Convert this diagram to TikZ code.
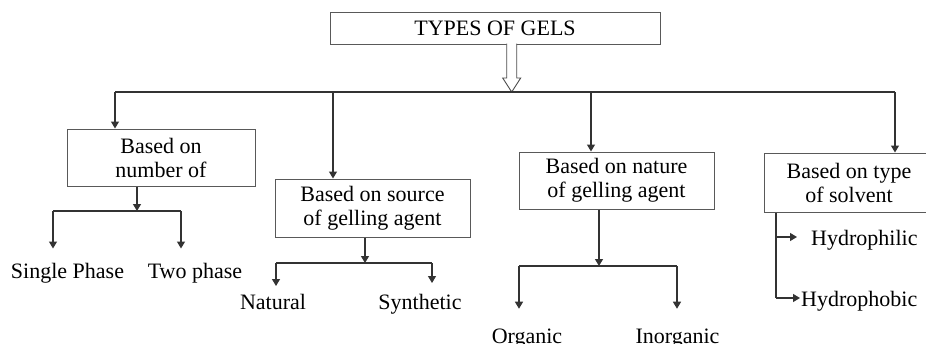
\documentclass[tikz,border=0pt]{standalone}
\usepackage{fontspec}
\setmainfont{Liberation Serif}
\usetikzlibrary{arrows.meta,positioning}

\tikzset{
  box/.style={draw=black!65, line width=1pt, align=center, inner sep=0pt,
    font=\fontsize{22}{24}\selectfont},
  leaf/.style={font=\fontsize{22}{24}\selectfont, inner sep=0pt, anchor=base},
  arr/.style={draw=black!80, line width=1.2pt, -{Triangle[width=8pt,length=7pt]}},
  bar/.style={draw=black!80, line width=1.2pt},
}

\begin{document}
\begin{tikzpicture}[x=1pt,y=-1pt]
  \useasboundingbox (0,0) rectangle (926,343);
  \node[box, minimum width=330pt, minimum height=32pt] (gels) at (495,28) {TYPES OF GELS};
  \node[box, minimum width=188pt, minimum height=57pt] (number) at (161,157.5) {Based on\\number of};
  \node[box, minimum width=195pt, minimum height=58pt] (source) at (372.5,208) {Based on source\\of gelling agent};
  \node[box, minimum width=195pt, minimum height=57pt] (nature) at (616.5,180.5) {Based on nature\\of gelling agent};
  \node[box, minimum width=170pt, minimum height=59pt] (solvent) at (849,182.5) {Based on type\\of solvent};
  % hollow arrow down to the bar
  \draw[draw=black!70, line width=0.9pt, fill=white] (506.7,43.5) -- (506.7,78) -- (502.7,78)
    -- (511.7,92) -- (520.7,78) -- (516.7,78) -- (516.7,43.5);
  \coordinate (b1) at (115,92);
  \coordinate (b2) at (333,92);
  \coordinate (b3) at (591,92);
  \coordinate (b4) at (895,92);
  \draw[bar] (b1) -- (b4);
  \draw[arr] (b1) -- (b1 |- number.north);
  \draw[arr] (b2) -- (b2 |- source.north);
  \draw[arr] (b3) -- (b3 |- nature.north);
  \draw[arr] (b4) -- (b4 |- solvent.north);

  \node[leaf] (single) at (67.5,278) {Single Phase};
  \node[leaf] (two) at (195,278) {Two phase};
  \coordinate (n0) at (137,211);
  \coordinate (n1) at (53,211);
  \coordinate (n2) at (181,211);
  \draw[arr] (n0 |- number.south) -- (n0);
  \draw[bar] (n1) -- (n2);
  \draw[arr, shorten >=14pt] (n1) -- (n1 |- single.north);
  \draw[arr, shorten >=14pt] (n2) -- (n2 |- two.north);

  \node[leaf] (natural) at (273,309) {Natural};
  \node[leaf] (synthetic) at (420,309) {Synthetic};
  \coordinate (r0) at (365,263);
  \coordinate (r1) at (276,263);
  \coordinate (r2) at (432,263);
  \draw[arr] (r0 |- source.south) -- (r0);
  \draw[bar] (r1) -- (r2);
  \draw[arr, shorten >=7.5pt] (r1) -- (r1 |- natural.north);
  \draw[arr, shorten >=10.5pt] (r2) -- (r2 |- synthetic.north);

  \node[leaf] (organic) at (527,343) {Organic};
  \node[leaf] (inorganic) at (677.5,343) {Inorganic};
  \coordinate (o0) at (599,266);
  \coordinate (o1) at (519,266);
  \coordinate (o2) at (677,266);
  \draw[arr] (o0 |- nature.south) -- (o0);
  \draw[bar] (o1) -- (o2);
  \draw[arr, shorten >=19.5pt] (o1) -- (o1 |- organic.north);
  \draw[arr, shorten >=19.5pt] (o2) -- (o2 |- inorganic.north);

  \node[leaf, anchor=base west] (philic) at (811,245) {Hydrophilic};
  \node[leaf, anchor=base west] (phobic) at (801,306) {Hydrophobic};
  \coordinate (s1) at (776,237);
  \coordinate (s2) at (776,298);
  \draw[bar] (s1 |- solvent.south) -- (s2);
  \draw[arr, shorten >=14pt] (s1) -- (s1 -| philic.west);
  \draw[arr, shorten >=1pt] (s2) -- (s2 -| phobic.west);
\end{tikzpicture}
\end{document}
